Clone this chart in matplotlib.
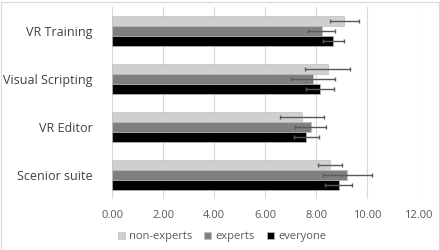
import matplotlib
matplotlib.use("Agg")
import matplotlib.pyplot as plt
import numpy as np
from matplotlib.patches import Rectangle

categories = ["VR Training", "Visual Scripting", "VR Editor", "Scenior suite"]
series = ["non-experts", "experts", "everyone"]
non_experts = [9.10, 8.45, 7.43, 8.54]
non_experts_err = [0.57, 0.88, 0.87, 0.48]
experts = [8.21, 7.88, 7.78, 9.22]
experts_err = [0.53, 0.86, 0.60, 0.95]
everyone = [8.67, 8.15, 7.61, 8.88]
everyone_err = [0.40, 0.55, 0.50, 0.52]
xticks = [0, 2, 4, 6, 8, 10, 12]

plt.rcParams['font.family'] = ['Open Sans', 'DejaVu Sans']
fig = plt.figure(figsize=(4.4, 2.5), dpi=100)
ax = fig.add_axes([112.3/440, (250-199)/250, (418.3-112.3)/440, 192/250])

colors = ["#D0D0D0", "#808080", "#000000"]
vals = [non_experts, experts, everyone]
errs = [non_experts_err, experts_err, everyone_err]
h = 10/48
y = np.arange(len(categories))
for i in range(3):
    yy = y + (i - 1) * h
    ax.barh(yy, vals[i], height=h, color=colors[i], edgecolor="#BFBFBF", linewidth=0.5,
            label=series[i], zorder=2)
    ax.errorbar(vals[i], yy, xerr=errs[i], fmt="none", ecolor="#595959",
                elinewidth=1.0, capsize=1.5, capthick=1.0, zorder=3)

ax.set_ylim(3.5, -0.5)
ax.set_xlim(0, 12)
ax.set_xticks(xticks)
ax.set_xticklabels([f"{v:.2f}" for v in xticks], fontsize=8, color="#595959")
ax.set_yticks(y)
ax.set_yticklabels(categories, fontsize=9, color="#404040")
ax.tick_params(axis="both", length=0)
ax.tick_params(axis="x", pad=8)
ax.tick_params(axis="y", pad=14)
ax.grid(axis="x", color="#D9D9D9", linewidth=0.8, zorder=0)
for s in ax.spines.values():
    s.set_visible(False)

leg = fig.legend(loc="center", bbox_to_anchor=(222/440, 1 - 237/250), ncol=3, frameon=False,
                 fontsize=8, handlelength=0.6, handleheight=0.6, handletextpad=0.4,
                 columnspacing=1.1, labelcolor="#595959")

fig.patches.append(Rectangle((0.5/440, 0.5/250), 438/440, 248/250, transform=fig.transFigure,
                             fill=False, edgecolor="#D9D9D9", linewidth=0.8))
fig.savefig("out.png", dpi=100)
